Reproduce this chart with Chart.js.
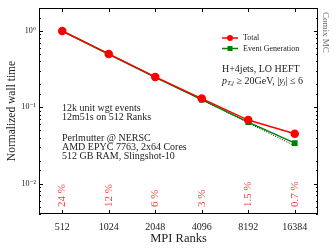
<!DOCTYPE html>
<html>
<head>
<meta charset="utf-8">
<script src="https://cdn.jsdelivr.net/npm/chart.js@4/dist/chart.umd.min.js"></script>
<style>
  html, body { margin: 0; padding: 0; background: #fff; }
  #wrap { width: 336px; height: 252px; }
</style>
</head>
<body>
<div id="wrap"><canvas id="myChart" width="336" height="252"></canvas></div>
<script>
const ranks = ["512", "1024", "2048", "4096", "8192", "16384"];
const totalTime = [1.0, 0.5, 0.25, 0.13, 0.068, 0.045];
const eventGenTime = [1.0, 0.495, 0.247, 0.126, 0.064, 0.034];
const idealTime = [1.0, 0.5, 0.25, 0.125, 0.0625, 0.03125];
const efficiency = ["24 %", "12 %", "6 %", "3 %", "1.5 %", "0.7 %"];
const runInfo = ["12k unit wgt events", "12m51s on 512 Ranks"];
const machineInfo = ["Perlmutter @ NERSC", "AMD EPYC 7763, 2x64 Cores", "512 GB RAM, Slingshot-10"];

const serif = "'Liberation Serif', 'DejaVu Serif', serif";
const red = "#ff0000";
const green = "#008000";

// ticks inside the frame, on all four sides
const framePlugin = {
  id: "frame",
  afterDraw(chart) {
    const c = chart.ctx;
    const a = chart.chartArea;
    const x = chart.scales.x;
    const y = chart.scales.y;
    c.save();
    c.strokeStyle = "#000";
    c.lineWidth = 1;
    c.strokeRect(a.left + 0.5, a.top + 0.5, a.right - a.left - 1, a.bottom - a.top - 1);
    c.beginPath();
    for (let i = 0; i < ranks.length; i++) {
      const px = Math.round(x.getPixelForValue(i)) + 0.5;
      c.moveTo(px, a.bottom); c.lineTo(px, a.bottom - 4);
      c.moveTo(px, a.top); c.lineTo(px, a.top + 4);
    }
    for (const t of y.ticks) {
      const m = t.value / Math.pow(10, Math.floor(Math.log10(t.value) + 1e-9));
      const len = Math.abs(m - 1) < 1e-6 ? 4 : 2;
      const py = Math.round(y.getPixelForValue(t.value)) + 0.5;
      c.moveTo(a.left, py); c.lineTo(a.left + len, py);
      c.moveTo(a.right, py); c.lineTo(a.right - len, py);
    }
    c.stroke();

    // efficiency labels, rotated
    c.fillStyle = "rgba(255,0,0,0.8)";
    c.font = "11px " + serif;
    c.textAlign = "left";
    c.textBaseline = "middle";
    for (let i = 0; i < efficiency.length; i++) {
      const px = x.getPixelForValue(i);
      c.save();
      c.translate(px, a.bottom - 7);
      c.rotate(-Math.PI / 2);
      c.fillText(efficiency[i], 0, 0);
      c.restore();
    }

    // info text
    c.fillStyle = "#222";
    c.font = "10px " + serif;
    c.textBaseline = "middle";
    runInfo.forEach((s, i) => c.fillText(s, 62, 108 + i * 9));
    machineInfo.forEach((s, i) => c.fillText(s, 62, 138 + i * 9));

    // process text
    c.font = "10px " + serif;
    c.fillText("H+4jets, LO HEFT", 222, 69);
    let cx = 222;
    const seg = (txt, font, dy) => {
      c.font = font;
      c.fillText(txt, cx, 81 + dy);
      cx += c.measureText(txt).width;
    };
    seg("p", "italic 10px " + serif, 0);
    seg("T,j", "italic 7px " + serif, 2);
    seg(" \u2265 20GeV, |", "10px " + serif, 0);
    seg("y", "italic 10px " + serif, 0);
    seg("j", "italic 7px " + serif, 2);
    seg("| \u2264 6", "10px " + serif, 0);

    // legend
    const items = [["Total", red, "circle"], ["Event Generation", green, "rect"]];
    items.forEach((it, i) => {
      const ly = 38 + i * 10.5;
      c.strokeStyle = it[1];
      c.fillStyle = it[1];
      c.lineWidth = 1.5;
      c.beginPath(); c.moveTo(222, ly); c.lineTo(238, ly); c.stroke();
      if (it[2] === "circle") {
        c.beginPath(); c.arc(230, ly, 3, 0, Math.PI * 2); c.fill();
      } else {
        c.fillRect(227.5, ly - 2.5, 5, 5);
      }
      c.fillStyle = "#222";
      c.font = "8px " + serif;
      c.fillText(it[0], 243, ly);
    });

    // side label
    c.fillStyle = "#666";
    c.font = "9px " + serif;
    c.save();
    c.translate(325, 12);
    c.rotate(Math.PI / 2);
    c.textBaseline = "middle";
    c.fillText("Comix MC", 0, 0);
    c.restore();
    c.restore();
  }
};

const config = {
  type: "line",
  data: {
    labels: ranks,
    datasets: [
      {
        label: "Total",
        data: totalTime,
        borderColor: red,
        backgroundColor: red,
        borderWidth: 1.5,
        pointRadius: 3.5,
        pointStyle: "circle",
        order: 1,
      },
      {
        label: "Event Generation",
        data: eventGenTime,
        borderColor: green,
        backgroundColor: green,
        borderWidth: 1.5,
        pointRadius: 3,
        pointStyle: "rect",
        order: 2,
      },
      {
        label: "Ideal",
        data: idealTime,
        borderColor: "#000",
        borderWidth: 1,
        borderDash: [1, 1.5],
        pointRadius: 0,
        order: 3,
      },
    ],
  },
  options: {
    responsive: false,
    animation: false,
    layout: {
      padding: { top: 8, right: 18, left: 0, bottom: 0 },
    },
    scales: {
      x: {
        type: "category",
        offset: true,
        grid: { display: false, drawTicks: false },
        border: { display: false },
        ticks: {
          padding: 7,
          color: "#222",
          font: { size: 10, family: serif },
          maxRotation: 0,
        },
        title: {
          display: true,
          text: "MPI Ranks",
          color: "#222",
          padding: { top: 0, bottom: 6 },
          font: { size: 12.5, family: serif },
        },
        afterFit(scale) { scale.height = 38; },
      },
      y: {
        type: "logarithmic",
        min: 0.004,
        max: 2,
        grid: { display: false, drawTicks: false },
        border: { display: false },
        ticks: {
          padding: 3,
          color: "#222",
          font: { size: 8, family: serif },
          autoSkip: false,
          callback(value) {
            const e = Math.log10(value);
            if (Math.abs(e - Math.round(e)) > 1e-6) return "";
            const sup = { "0": "\u2070", "1": "\u00b9", "2": "\u00b2", "-": "\u207b" };
            return "10" + String(Math.round(e)).split("").map(ch => sup[ch]).join("");
          },
        },
        title: {
          display: true,
          text: "Normalized wall time",
          color: "#222",
          padding: { top: 5, bottom: 0 },
          font: { size: 11.5, family: serif },
        },
        afterFit(scale) { scale.width = 39; },
      },
    },
    plugins: {
      legend: { display: false },
      tooltip: { enabled: false },
    },
  },
  plugins: [framePlugin],
};

const ctx = document.getElementById("myChart");
const timeChart = new Chart(ctx, config);
</script>
</body>
</html>
